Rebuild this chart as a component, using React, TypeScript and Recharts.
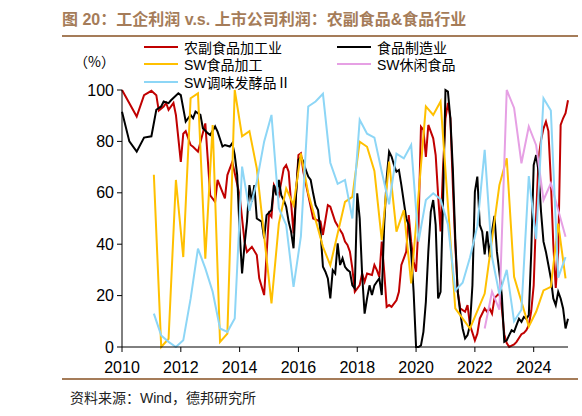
import { LineChart, Line, XAxis, YAxis } from "recharts"

const firstMonth = "2010-02"
const lastMonth = "2025-04"
const yearTicks = [2010, 2012, 2014, 2016, 2018, 2020, 2022, 2024]
const valueTicks = [0, 20, 40, 60, 80, 100]

// monthly, Feb 2010 .. Apr 2025 (null = no reading, line runs straight across)
const agriProcessing = [
  100, null, null, null, null, null, 89.7, null, null, 98, null,
  null, 99.7, null, 98, 92, null, 93.6, 95, 92.3, null, 95, 90.3,
  null, 72, 83, 84, null, 78.6, 77.9, null, 76, null, null, 87,
  null, 59, null, 56.5, 65, null, null, 57.8, 66.9, null, 72, null,
  null, 59, null, 41, 37, null, 39, null, 35.8, 26.7, null, 20.2,
  null, 52, 50.7, 63, null, 59, null, 69.5, 70.8, 68.2, null, 44.2,
  null, 74.7, 75.4, 68.2, null, 59.1, null, 50, null, null, 48.8, 43.6,
  null, 55.2, 54.6, null, 48.8, null, 45.5, 44, 41, 39.7, 37.1, 30.6,
  21.5, null, 24.1, 28.6, 25.4, 28.6, null, 28, 31.9, 29.9, 27.3, 41,
  29.3, 15.6, 16.3, 15.6, null, 18.2, 21.5, 31.9, 34.5, 37.1, 51.3, 41,
  33.2, 29.3, 47.5, 85.7, 84.5, 74, 86.4, null, 81.2, 74.7, 59, 45,
  69.5, 89, 95, 89, 63, 39.7, 21.5, 15, null, 13.7, 16.3, 8.5,
  null, 2.6, 5.2, 11.1, null, 15, 13.7, 15, 13, 19, 20, 21,
  15, 5, 1.5, 0, 0.5, 1, 2, 3.5, 5, 5.5, 6.5, 8.5,
  14, 24, 51.3, 73.4, 80.5, 85, 87.7, 84, 65, 40, 23, 37,
  86.4, 89, 91, 96,
]

const foodManufacturing = [
  91.5, null, null, 80, null, null, 76, null, null, 81.5, null,
  null, 82, null, 92.3, null, 93.6, 95.5, null, 94.9, 96, null, null,
  98.7, 98, null, 87.7, null, 90.3, 89, 91.6, null, 90.3, 85.1, null,
  83.2, 82.5, null, 85.8, 83.8, null, 78, 78.6, null, 78, 79.3, 74.7,
  67, 45, 28.6, 39.7, 48.8, 63, 56.5, 63, 50, null, 48.8, 42.3,
  51.3, null, 53.3, 63, 59, 65, 59, 57.2, 54.6, 48.8, 44.9, 38.4,
  59, 72.8, 74, 72.1, 68.9, 66.3, 65, 59.8, 55.2, 53.3, 44.9, 31.2,
  29.3, 26.7, 18.9, 29.9, 28.6, 40.3, 31.9, 34.5, 31.2, 30, 29.3, 24,
  22.8, 59.8, 50, 28, 13, 18.9, 24, 20.2, 24, 25.4, 26.7, 20.2,
  47.5, 65.6, 76, 74.1, 70.8, 68.2, 68.9, 63, 56.5, 50, 47.5, 37,
  21.5, 0, 0, 0.6, 5.9, 17.6, 37, 52.6, 57.2, 47.5, 18.9, 21.5,
  56.5, 100, 99.4, 89, 69.5, 42.3, 21.5, 13.7, 7.2, 3.3, 4.6, 8.5,
  24, 60.4, 66.3, 47.5, 44.9, 36, 45, 35, 45, 51, 37, 29,
  20, 2, 2.6, 4.6, 6.5, 5.9, 8.5, 11, 9.8, 11.7, 11, 12.4,
  37, 70.8, 74.7, 68.2, 52.6, 41, 37, 31.9, 26.7, 18.9, 16.3, 21.5,
  18.9, 15, 7.2, 11,
]

// quarterly, 2011Q1 .. 2025Q1
const swFoodProcessing = [
  67, 0, 3.2, 65,
  35, 96.8, 98.7, 34.4,
  86.4, 2, 5.2, 100,
  82, 84, 69.5, null,
  17, 48, 61.7, 55.2,
  75.3, 59.8, null, 39,
  31.8, null, 56.5, 58.4,
  79.9, 77.9, 68.5, 41.6,
  72.1, 44.9, 53.3, 24.7,
  null, 93.6, 90.3, 95.5,
  null, 15, null, 7.2,
  null, 20.8, null, 63,
  73.4, 27.3, null, 8,
  13.7, 22, 23.4, 48,
  26.7,
]

const swSeasoning = [
  13, 4.5, 2, 0,
  2.6, 18.8, 38.3, 30.6,
  21.5, 7.2, 5.9, 11.1,
  70.2, 53, 64.3, 79.9,
  90.3, 54, 47.5, 23.4,
  43, 93.6, 95.5, 98.5,
  71.7, 63.5, 65, 50,
  88.4, 83, 81.5, 68.2,
  55.5, 75.2, 73.4, 78.6,
  41, 57.2, 59.8, 57.5,
  47.7, 22, 25, 34.8,
  47, 76.7, 35, 20.5,
  30, 10, 14.5, 66.5,
  42, 96.8, 92, 27,
  35,
]

// quarterly, 2022Q2 .. 2025Q1
const swLeisureFood = [
  7.2, 21.5, 14.5,
  100, 93, 71.5, 85.8,
  78.5, 57.2, 63.7, null,
  42.9,
]

function parse(m: string) {
  const [y, mo] = m.split("-").map(Number)
  return { y, mo }
}

// category axis: first month sits on the 2010 tick
function toX(m: string) {
  const { y, mo } = parse(m)
  return y + (mo - 2) / 12
}

function monthList(from: string, to: string, step = 1) {
  const out: string[] = []
  let { y, mo } = parse(from)
  const end = parse(to)
  while (y < end.y || (y === end.y && mo <= end.mo)) {
    out.push(`${y}-${String(mo).padStart(2, "0")}`)
    mo += step
    if (mo > 12) {
      mo -= 12
      y += 1
    }
  }
  return out
}

const months = monthList(firstMonth, lastMonth)
const swQuarters = monthList("2011-03", "2025-03", 3)
const leisureQuarters = monthList("2022-06", "2025-03", 3)

const table = months.map((m, i) => {
  const q = swQuarters.indexOf(m)
  const l = leisureQuarters.indexOf(m)
  return {
    x: toX(m),
    agri: agriProcessing[i] ?? null,
    food: foodManufacturing[i] ?? null,
    swFood: q >= 0 ? swFoodProcessing[q] : null,
    swSeason: q >= 0 ? swSeasoning[q] : null,
    swLeisure: l >= 0 ? swLeisureFood[l] : null,
  }
})

const series = [
  { key: "agri", name: "农副食品加工业", color: "#C00000" },
  { key: "food", name: "食品制造业", color: "#000000" },
  { key: "swFood", name: "SW食品加工", color: "#FFC000" },
  { key: "swLeisure", name: "SW休闲食品", color: "#E6A0E4" },
  { key: "swSeason", name: "SW调味发酵品Ⅱ", color: "#8DD6F6" },
]

const latin = "'Liberation Sans', Arial, sans-serif"
const cjk = "'Liberation Sans', 'Noto Sans CJK SC', sans-serif"
const cjkOnly = "'Noto Sans CJK SC', sans-serif"
const brown = "#A57C59"

// the roman numeral comes from the CJK font, as in the original
function LegendText({ text }: { text: string }) {
  const parts = text.split("Ⅱ")
  if (parts.length === 1) return <>{text}</>
  return (
    <>
      {parts[0]}
      <span style={{ fontFamily: cjkOnly }}>Ⅱ</span>
      {parts[1]}
    </>
  )
}

export default function App() {
  const legendPos = [
    { left: 144, top: 47 },
    { left: 337, top: 47 },
    { left: 144, top: 64 },
    { left: 337, top: 64 },
    { left: 144, top: 82 },
  ]
  return (
    <div
      style={{
        position: "absolute",
        left: 0,
        top: 0,
        width: 582,
        height: 416,
        background: "#fff",
        overflow: "hidden",
        fontFamily: cjk,
      }}
    >
      <LineChart
        width={582}
        height={416}
        data={table}
        margin={{ top: 90, right: 14, bottom: 0, left: 0 }}
      >
        <XAxis
          type="number"
          dataKey="x"
          domain={[2010, toX(lastMonth)]}
          ticks={yearTicks}
          interval={0}
          height={69}
          tickSize={5}
          tickMargin={10}
          tick={{ fontSize: 16, fill: "#000", fontFamily: latin }}
          axisLine={{ stroke: "#000" }}
          tickLine={{ stroke: "#000" }}
        />
        <YAxis
          type="number"
          domain={[0, 100]}
          ticks={valueTicks}
          interval={0}
          width={122}
          tickSize={5}
          tickMargin={3}
          tick={{ fontSize: 16, fill: "#000", fontFamily: latin }}
          axisLine={{ stroke: "#000" }}
          tickLine={{ stroke: "#000" }}
        />
        {series.map((s) => (
          <Line
            key={s.key}
            type="linear"
            dataKey={s.key}
            name={s.name}
            stroke={s.color}
            strokeWidth={2}
            dot={false}
            connectNulls
            isAnimationActive={false}
          />
        ))}
      </LineChart>

      <div
        style={{
          position: "absolute",
          left: 62,
          top: 9,
          fontSize: 16,
          fontWeight: "bold",
          color: brown,
          whiteSpace: "nowrap",
          lineHeight: "22px",
        }}
      >
        图 20：工企利润 v.s. 上市公司利润：农副食品&食品行业
      </div>
      <div style={{ position: "absolute", left: 62, top: 35, width: 516, height: 2, background: brown }} />

      <div
        style={{
          position: "absolute",
          left: 74,
          top: 50,
          fontSize: 14,
          fontFamily: cjkOnly,
          color: "#000",
          lineHeight: "22px",
          whiteSpace: "nowrap",
        }}
      >
        （%）
      </div>

      {series.map((s, i) => (
        <div
          key={s.key}
          style={{
            position: "absolute",
            left: legendPos[i].left,
            top: legendPos[i].top - 10,
            height: 20,
            display: "flex",
            alignItems: "center",
            whiteSpace: "nowrap",
          }}
        >
          <span style={{ width: 34, height: 2, background: s.color, marginRight: 6 }} />
          <span style={{ fontSize: 14, color: "#000" }}>
            <LegendText text={s.name} />
          </span>
        </div>
      ))}

      <div style={{ position: "absolute", left: 62, top: 378, width: 516, height: 2, background: brown }} />
      <div
        style={{
          position: "absolute",
          left: 70,
          top: 388,
          fontSize: 14,
          color: "#222",
          lineHeight: "20px",
          whiteSpace: "nowrap",
        }}
      >
        资料来源：Wind，德邦研究所
      </div>
    </div>
  )
}
